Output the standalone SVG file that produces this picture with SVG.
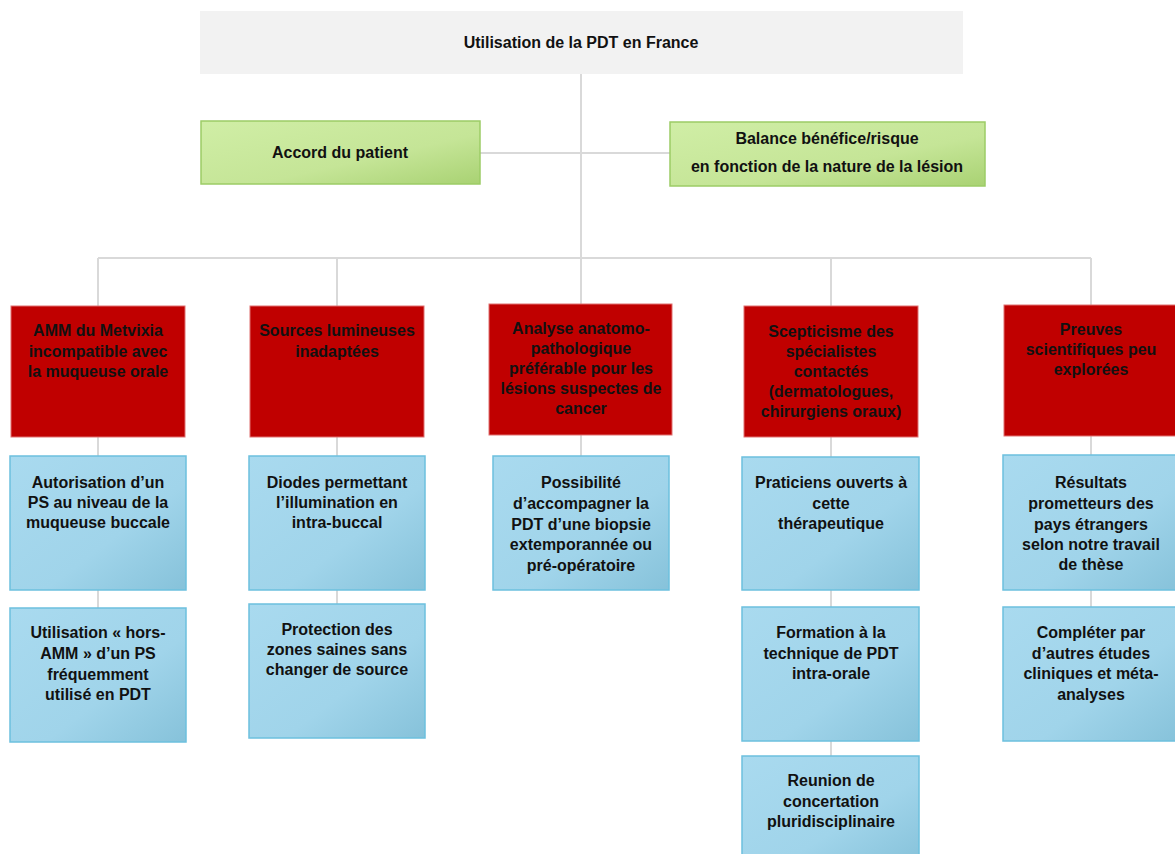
<svg xmlns="http://www.w3.org/2000/svg" width="1175" height="854" viewBox="0 0 1175 854">
<defs>
<linearGradient id="gBlue" x1="0" y1="0" x2="1" y2="1">
<stop offset="0" stop-color="#a9daef"/><stop offset="0.6" stop-color="#a0d4ea"/><stop offset="1" stop-color="#86c2da"/>
</linearGradient>
<linearGradient id="gGreen" x1="0" y1="0" x2="1" y2="1">
<stop offset="0" stop-color="#d0eea6"/><stop offset="0.6" stop-color="#c5e597"/><stop offset="1" stop-color="#a9d273"/>
</linearGradient>
<style>
.t{font-family:"Liberation Sans",Arial,sans-serif;font-weight:bold;font-size:16px;fill:#111;text-anchor:middle}
.red{fill:#c00000;stroke:#e07070;stroke-width:1}
.blue{fill:url(#gBlue);stroke:#6cc0de;stroke-width:1.5}
.green{fill:url(#gGreen);stroke:#9ccc66;stroke-width:1.5}
.top{fill:#f2f2f2}
.c{stroke:#d9d9d9;stroke-width:2;fill:none}
</style>
</defs>
<rect width="1175" height="854" fill="#fff"/>
<g id="connectors">
<path class="c" d="M581 74V258M480 153H670M98 258H1091M98 258V306M337 258V306M581 258V304M831 258V306M1091 258V305"/>
<path class="c" d="M98 437V456M98 590V608M337 437V456M337 590V604M581 435V456M831 437V457M831 590V607M831 741V756M1091 436V455M1091 590V607"/>
</g>
<g id="n-root"><rect class="top" x="200" y="11" width="763" height="63"/><text class="t" x="581" y="48">Utilisation de la PDT en France</text></g>
<g id="n-accord"><rect class="green" x="201" y="121" width="279" height="63"/><text class="t" x="340" y="158">Accord du patient</text></g>
<g id="n-balance"><rect class="green" x="670" y="122" width="315" height="64"/><text class="t" x="827" y="144">Balance bénéfice/risque</text><text class="t" x="827" y="172">en fonction de la nature de la lésion</text></g>

<g id="n-r1"><rect class="red" x="11" y="306" width="174" height="131"/><text class="t" x="98" y="336">AMM du Metvixia</text><text class="t" x="98" y="357">incompatible avec</text><text class="t" x="98" y="377">la muqueuse orale</text></g>
<g id="n-r2"><rect class="red" x="250" y="306" width="174" height="131"/><text class="t" x="337" y="336">Sources lumineuses</text><text class="t" x="337" y="357">inadaptées</text></g>
<g id="n-r3"><rect class="red" x="489" y="304" width="183" height="131"/><text class="t" x="581" y="334">Analyse anatomo-</text><text class="t" x="581" y="354">pathologique</text><text class="t" x="581" y="374">préférable pour les</text><text class="t" x="581" y="394">lésions suspectes de</text><text class="t" x="581" y="414">cancer</text></g>
<g id="n-r4"><rect class="red" x="744" y="306" width="174" height="131"/><text class="t" x="831" y="337">Scepticisme des</text><text class="t" x="831" y="357">spécialistes</text><text class="t" x="831" y="377">contactés</text><text class="t" x="831" y="397">(dermatologues,</text><text class="t" x="831" y="417">chirurgiens oraux)</text></g>
<g id="n-r5"><rect class="red" x="1004" y="305" width="176" height="131"/><text class="t" x="1091" y="335">Preuves</text><text class="t" x="1091" y="355">scientifiques peu</text><text class="t" x="1091" y="375">explorées</text></g>

<g id="n-b1a"><rect class="blue" x="10" y="456" width="176" height="134"/><text class="t" x="98" y="488">Autorisation d’un</text><text class="t" x="98" y="508">PS au niveau de la</text><text class="t" x="98" y="528">muqueuse buccale</text></g>
<g id="n-b1b"><rect class="blue" x="10" y="608" width="176" height="134"/><text class="t" x="98" y="638">Utilisation « hors-</text><text class="t" x="98" y="659">AMM » d’un PS</text><text class="t" x="98" y="680">fréquemment</text><text class="t" x="98" y="700">utilisé en PDT</text></g>
<g id="n-b2a"><rect class="blue" x="249" y="456" width="176" height="134"/><text class="t" x="337" y="488">Diodes permettant</text><text class="t" x="337" y="508">l’illumination en</text><text class="t" x="337" y="528">intra-buccal</text></g>
<g id="n-b2b"><rect class="blue" x="249" y="604" width="176" height="134"/><text class="t" x="337" y="635">Protection des</text><text class="t" x="337" y="655">zones saines sans</text><text class="t" x="337" y="675">changer de source</text></g>
<g id="n-b3a"><rect class="blue" x="493" y="456" width="176" height="134"/><text class="t" x="581" y="488">Possibilité</text><text class="t" x="581" y="509">d’accompagner la</text><text class="t" x="581" y="530">PDT d’une biopsie</text><text class="t" x="581" y="550">extemporannée ou</text><text class="t" x="581" y="571">pré-opératoire</text></g>
<g id="n-b4a"><rect class="blue" x="742" y="457" width="177" height="133"/><text class="t" x="831" y="488">Praticiens ouverts à</text><text class="t" x="831" y="509">cette</text><text class="t" x="831" y="529">thérapeutique</text></g>
<g id="n-b4b"><rect class="blue" x="742" y="607" width="177" height="134"/><text class="t" x="831" y="638">Formation à la</text><text class="t" x="831" y="659">technique de PDT</text><text class="t" x="831" y="679">intra-orale</text></g>
<g id="n-b4c"><rect class="blue" x="742" y="756" width="177" height="110"/><text class="t" x="831" y="786">Reunion de</text><text class="t" x="831" y="807">concertation</text><text class="t" x="831" y="827">pluridisciplinaire</text></g>
<g id="n-b5a"><rect class="blue" x="1003" y="455" width="177" height="135"/><text class="t" x="1091" y="488">Résultats</text><text class="t" x="1091" y="509">prometteurs des</text><text class="t" x="1091" y="530">pays étrangers</text><text class="t" x="1091" y="550">selon notre travail</text><text class="t" x="1091" y="570">de thèse</text></g>
<g id="n-b5b"><rect class="blue" x="1003" y="607" width="177" height="134"/><text class="t" x="1091" y="638">Compléter par</text><text class="t" x="1091" y="659">d’autres études</text><text class="t" x="1091" y="679">cliniques et méta-</text><text class="t" x="1091" y="700">analyses</text></g>
</svg>
